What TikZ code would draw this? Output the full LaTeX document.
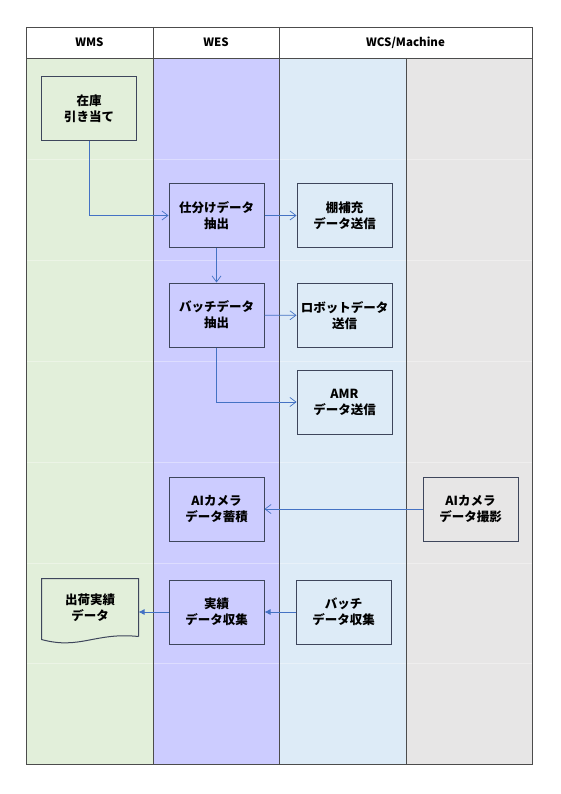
\documentclass[tikz,border=0pt]{standalone}
\usepackage{fontspec}
\setmainfont{Noto Sans CJK JP}
\usetikzlibrary{positioning,arrows.meta}
\definecolor{wmsgreen}{RGB}{226,239,218}
\definecolor{weslav}{RGB}{204,204,255}
\definecolor{wcsblue}{RGB}{221,235,247}
\definecolor{machgray}{RGB}{231,230,230}
\definecolor{flowblue}{RGB}{68,114,196}
\definecolor{boxline}{RGB}{62,70,92}
\tikzset{
  lane/.style={draw=black!70, line width=0.8pt},
  rowline/.style={draw=white, line width=0.6pt, opacity=0.35},
  head/.style={font=\bfseries\fontsize{11.5}{13}\selectfont},
  task/.style={draw=boxline, line width=1pt, minimum width=95pt, minimum height=64pt,
    inner sep=0pt, align=center, font=\bfseries\fontsize{12.5}{16}\selectfont},
  flow/.style={draw=flowblue, line width=0.7pt, -{Straight Barb[length=6pt,width=9pt]}},
  flowfill/.style={draw=flowblue, line width=0.7pt, -{Latex[length=6pt,width=6pt]}},
}
\begin{document}
\begin{tikzpicture}[x=1pt, y=-1pt]
        \useasboundingbox (0,0) rectangle (561,794);
        % lanes
        \fill [wmsgreen] (26,58) rectangle (153,764);
        \fill [weslav] (153,58) rectangle (279,764);
        \fill [wcsblue] (279,58) rectangle (406,764);
        \fill [machgray] (406,58) rectangle (532,764);
        \foreach \y in {159,260,361,462,563,663}
            \draw [rowline] (26,\y) -- (532,\y);
        \draw [lane] (26,27) rectangle (532,764);
        \draw [lane] (26,58) -- (532,58);
        \draw [lane] (153,27) -- (153,764);
        \draw [lane] (279,27) -- (279,764);
        \draw [lane] (406,58) -- (406,764);
        \node [head] (wms) at (89.5,42.5) {WMS};
        \node [head] (wes) at (216,42.5) {WES};
        \node [head] (wcs) at (405.5,42.5) {WCS/Machine};
        % tasks
        \node [task, fill=wmsgreen] (stock) at (89,108.5) {在庫\\引き当て};
        \node [task, fill=weslav] (sortdata) at (216.5,215.5) {仕分けデータ\\抽出};
        \node [task, fill=wcsblue] (refill) at (344.5,215.5) {棚補充\\データ送信};
        \node [task, fill=weslav] (batchdata) at (216.5,315) {バッチデータ\\抽出};
        \node [task, fill=wcsblue] (robot) at (344.5,315.5) {ロボットデータ\\送信};
        \node [task, fill=wcsblue] (amr) at (344.5,402) {AMR\\データ送信};
        \node [task, fill=weslav] (aistore) at (216.5,509) {AIカメラ\\データ蓄積};
        \node [task, fill=machgray] (aishot) at (470.5,509) {AIカメラ\\データ撮影};
        \node [task, fill=weslav] (result) at (216.5,612) {実績\\データ収集};
        \node [task, fill=wcsblue] (batchcollect) at (343.5,612) {バッチ\\データ収集};
        \node [task, draw=none, minimum width=96pt, minimum height=57pt] (shipdata) at (90,607.5) {出荷実績\\データ};
        \draw [boxline, line width=1pt] (shipdata.south east) -- (shipdata.north east) -- (shipdata.north west)
            -- ([yshift=-3pt]shipdata.south west) .. controls (80,650) and (95,632) .. (shipdata.south east);
        % flows
        \draw [flow] (stock.south) |- (sortdata.west);
        \draw [flow] (sortdata) -- (refill);
        \draw [flow] (sortdata) -- (batchdata);
        \draw [flow] (batchdata) -- (robot);
        \draw [flow] (batchdata.south) |- (amr.west);
        \draw [flow] (aishot) -- (aistore);
        \draw [flowfill] (batchcollect) -- (result);
        \draw [flowfill] (result.west) -- (result.west -| shipdata.east);
    \end{tikzpicture}
\end{document}
